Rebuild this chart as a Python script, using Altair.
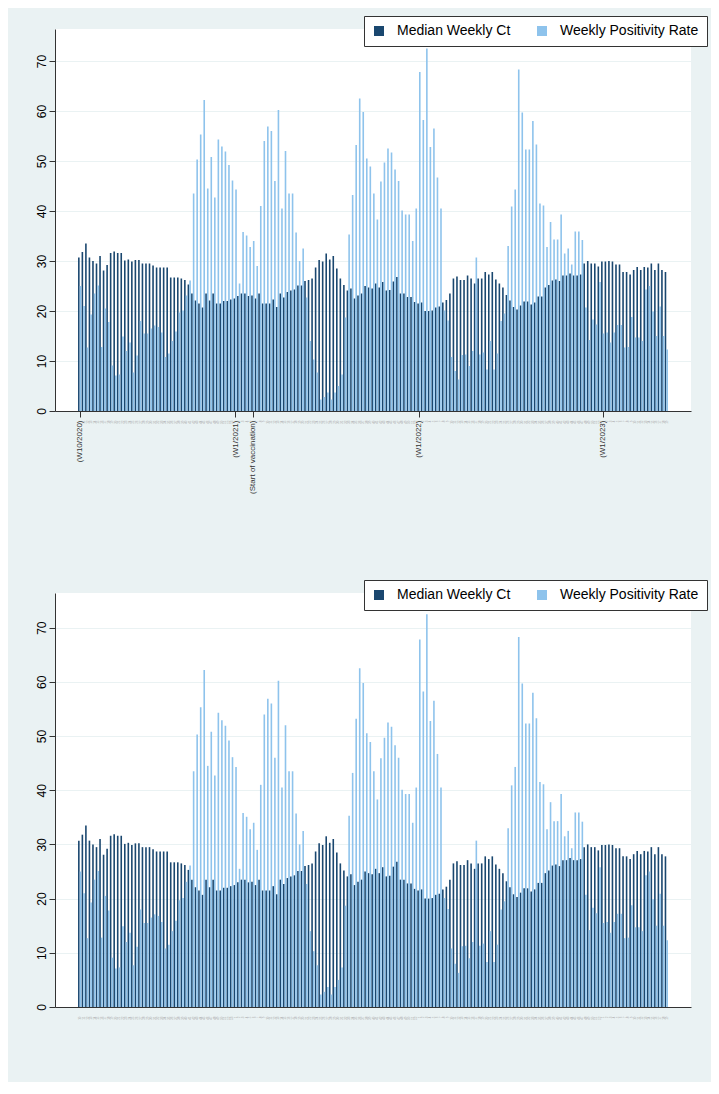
import json
import altair as alt
import pandas as pd

# ---- week categories (W10/2020 ... W19/2023) ----
week_labels = []
for yr, first, last in [(2020, 10, 53), (2021, 1, 52), (2022, 1, 52), (2023, 1, 19)]:
    for w in range(first, last + 1):
        week_labels.append(f"W{w}/{yr}")

major_idx = [0, 44, 49, 96, 148]
major_text = ["(W10/2020)", "(W1/2021)", "(Start of vaccination)", "(W1/2022)", "(W1/2023)"]

# ---- series values ----
median_ct = [
    30.7, 31.8, 33.5, 30.7, 30.0, 29.5, 31.0, 28.1, 29.2, 31.6, 31.9, 31.6, 31.6, 30.1, 30.3, 29.9,
    30.2, 30.2, 29.5, 29.5, 29.5, 29.1, 28.7, 28.7, 28.7, 28.7, 26.7, 26.7, 26.7, 26.5, 26.2, 25.3,
    23.5, 22.1, 21.5, 20.7, 23.5, 22.1, 23.5, 21.5, 21.5, 22.0, 22.0, 22.3, 22.5, 23.0, 23.5, 23.5,
    23.0, 23.1, 22.5, 23.5, 21.5, 21.5, 21.5, 22.3, 20.8, 23.5, 22.7, 23.8, 24.1, 24.3, 25.1, 25.1,
    26.0, 26.2,
    26.5, 28.7, 30.2, 29.9, 31.5, 30.3, 31.0, 28.5, 26.5, 25.2, 24.1, 24.5, 22.5, 23.1, 23.5, 25.0,
    24.7, 24.5, 25.5, 24.7, 25.8, 24.1, 24.2, 25.9, 26.8, 23.5, 23.5, 22.8, 22.8, 21.8, 21.5, 21.7,
    20.0, 20.0,
    20.1, 20.7, 20.9, 21.7, 22.2, 23.5, 26.5, 26.9, 26.2, 26.2, 27.1, 26.5, 25.5, 26.5, 26.5, 27.8,
    27.3, 27.8, 26.3, 25.5, 24.7, 23.2, 22.1, 20.8, 20.3, 21.1, 21.9, 21.9, 21.3, 21.7, 22.9, 22.9,
    24.7, 25.2, 26.1,
    26.3, 26.0, 27.1, 27.1, 27.5, 27.1, 27.1, 27.3, 29.5, 30.0, 29.5, 29.5, 28.9, 29.9, 29.9, 30.0,
    29.9, 29.3, 29.3, 27.8, 27.8, 27.3, 28.2, 28.8, 28.2, 28.8, 28.7, 29.5, 28.2, 29.5, 28.2, 27.8,
]
positivity = [
    25.0, 21.0, 12.7, 19.3, 23.5, 25.1, 12.8, 20.5, 17.8, 9.1, 7.1, 7.3, 14.9, 12.0, 13.7, 7.7,
    11.1, 18.0, 15.5, 15.5, 16.5, 17.1, 16.8, 15.7, 10.8, 11.5, 14.0, 15.9, 19.7, 20.1, 23.1, 26.1,
    43.5, 50.3, 55.3, 62.2, 44.5, 50.8, 42.7, 54.3, 52.9, 51.9, 49.2, 46.1, 44.3, 25.5, 35.8, 35.1,
    32.8, 34.0, 29.0, 41.0, 54.0, 56.9, 56.0, 46.0, 60.2, 40.5, 52.0, 43.5, 43.5, 35.7, 30.0, 32.5,
    22.7, 14.0,
    10.3, 7.7, 2.3, 2.8, 3.7, 2.3, 3.7, 5.0, 7.3, 18.7, 35.3, 43.2, 53.2, 62.5, 59.8, 50.5,
    48.9, 43.5, 38.3, 45.9, 49.7, 52.5, 51.7, 48.3, 46.0, 40.1, 39.3, 39.3, 34.0, 40.5, 67.8, 58.2,
    72.5, 52.8,
    56.5, 46.7, 40.5, 20.1, 18.1, 10.8, 8.0, 6.3, 11.2, 11.3, 9.0, 12.0, 30.7, 11.3, 11.7, 8.3,
    14.0, 8.3, 11.5, 18.0, 19.5, 33.0, 40.9, 44.3, 68.3, 59.7, 52.3, 52.3, 58.0, 53.3, 41.5, 41.1,
    32.8, 37.8, 34.3, 34.3, 39.3,
    31.5, 32.5, 29.3, 35.9, 35.9, 34.2, 20.7, 14.2, 18.3, 17.3, 25.8, 15.5, 15.7, 13.7, 15.7, 17.2,
    17.2, 12.7, 12.8, 18.8, 14.7, 14.7, 14.0, 24.3, 25.0, 19.9, 15.0, 20.9, 15.0, 12.3,
]

series_names = ["Median Weekly Ct", "Weekly Positivity Rate"]
series_colors = ["#1a476f", "#8ec3ec"]

n = len(week_labels)
rows = []
for i in range(n):
    rows.append({"idx": i, "week": week_labels[i], "series": series_names[0], "value": median_ct[i]})
    rows.append({"idx": i, "week": week_labels[i], "series": series_names[1], "value": positivity[i]})
df = pd.DataFrame(rows)

FONT = "Liberation Sans"
BG = "#eaf2f3"
AX = "#333333"
NB = "\u00a0\u00a0"

tiny = [w.split("/")[0][1:] for w in week_labels]
tiny_expr = json.dumps(tiny) + "[datum.value]"
major_test = "indexof(" + json.dumps(major_idx) + ", datum.value) >= 0"
top_expr = ""
for i, t in zip(major_idx, major_text):
    top_expr += f"datum.value == {i} ? '{t}{NB}' : "
top_expr += tiny_expr

x_scale = alt.Scale(domain=[-5.57, n - 1 + 5.57], nice=False, zero=False)
y_scale = alt.Scale(domain=[0, 76.4], nice=False, zero=True)


def x_axis(with_major):
    common = dict(
        values=list(range(n)), labelAngle=270, labelAlign="right", labelBaseline="middle",
        labelOverlap=False, labelFlush=False, labelBound=False, labelFont=FONT,
        labelPadding=3, tickSize=6, domainColor=AX, domainWidth=1, grid=False, title=None,
        zindex=1, labelLimit=200,
    )
    if with_major:
        return alt.Axis(
            labelExpr=top_expr,
            labelFontSize={"condition": {"test": major_test, "value": 8}, "value": 3},
            labelColor={"condition": {"test": major_test, "value": "#333333"}, "value": "#a8a8a8"},
            tickColor={"condition": {"test": major_test, "value": AX}, "value": "transparent"},
            **common,
        )
    return alt.Axis(labelExpr=tiny_expr, labelFontSize=3, labelColor="#a8a8a8",
                    tickColor="transparent", **common)


y_axis = alt.Axis(
    values=list(range(0, 80, 10)), labelAngle=270, labelAlign="center", labelBaseline="bottom",
    labelFontSize=12, labelFont=FONT, labelColor="#000000", labelPadding=1, tickSize=6,
    tickColor=AX, domainColor=AX, grid=True, gridColor=BG, gridWidth=1, title=None,
)


def panel(height, with_major):
    base = alt.Chart(df)
    color = alt.Color(
        "series:N",
        scale=alt.Scale(domain=series_names, range=series_colors),
        legend=alt.Legend(
            title=None, orient="none", legendX=309, legendY=-13, direction="horizontal",
            fillColor="white", strokeColor=AX, padding=8, symbolType="square", symbolSize=100,
            symbolStrokeWidth=0, labelFontSize=14, labelFont=FONT, labelColor="#000000",
            columnPadding=24, labelOffset=11,
        ),
    )
    x = alt.X("idx:Q", scale=x_scale, axis=x_axis(with_major))
    y = alt.Y("value:Q", scale=y_scale, axis=y_axis)
    dark = base.transform_filter(alt.datum.series == series_names[0]).mark_bar(
        width=1.6, xOffset=-0.85).encode(x=x, y=y, color=color)
    light = base.transform_filter(alt.datum.series == series_names[1]).mark_bar(
        width=1.6, xOffset=0.85).encode(x=x, y=y, color=color)
    return alt.layer(dark, light).properties(width=636, height=height)


chart = alt.vconcat(panel(382, True), panel(414, False), spacing=85).resolve_scale(
    color="independent").resolve_legend(color="independent").properties(
    background=BG, padding={"left": 26, "top": 7, "right": 3, "bottom": 62}
).configure_view(stroke=None, fill="white")

chart.save("out.html", embed_options={"renderer": "svg", "actions": False})
